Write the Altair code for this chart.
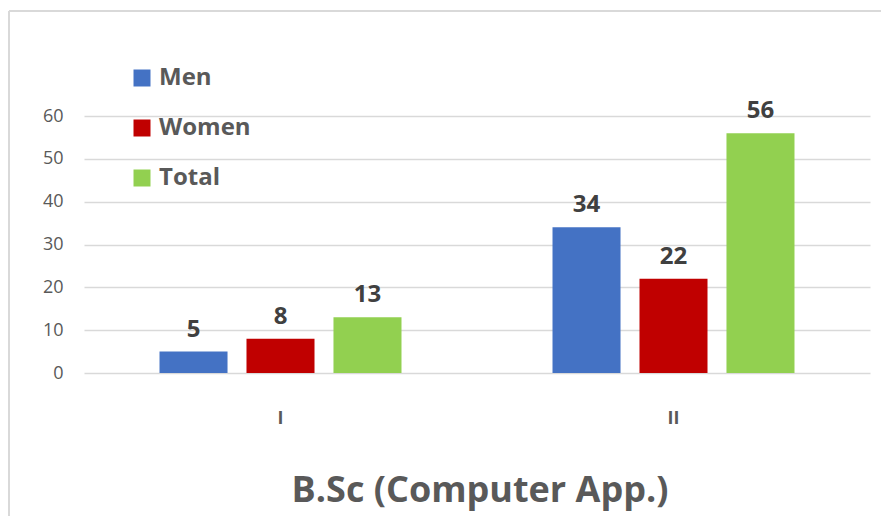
import altair as alt
import pandas as pd

years = ["I", "II"]
series = ["Men", "Women", "Total"]
men = [5, 34]
women = [8, 22]
total = [13, 56]
colors = ["#4472C4", "#C00000", "#92D050"]
y_ticks = [0, 10, 20, 30, 40, 50, 60]
title = "B.Sc (Computer App.)"

rows = []
for i, yr in enumerate(years):
    for s, vals in zip(series, [men, women, total]):
        rows.append({"year": yr, "series": s, "value": vals[i]})
df = pd.DataFrame(rows)

FONT = "Open Sans"

x_enc = alt.X("year:N", sort=years,
              scale=alt.Scale(paddingInner=0.336, paddingOuter=0.168),
              axis=alt.Axis(title=None, labelAngle=0, ticks=False, domain=False,
                            labelFontSize=18, labelFontWeight="bold", labelColor="#595959",
                            labelPadding=36, labelFont=FONT))
xo_enc = alt.XOffset("series:N", sort=series,
                     scale=alt.Scale(paddingInner=0.218, paddingOuter=0.109))
y_enc = alt.Y("value:Q", scale=alt.Scale(domain=[0, 60], nice=False),
              axis=alt.Axis(title=None, values=y_ticks, ticks=False, domain=False,
                            gridColor="#D9D9D9", gridWidth=1.5,
                            labelFontSize=18, labelColor="#595959", labelPadding=21,
                            labelFont=FONT))

bars = alt.Chart(df).mark_bar().encode(
    x=x_enc, xOffset=xo_enc, y=y_enc,
    color=alt.Color("series:N", sort=series,
                    scale=alt.Scale(domain=series, range=colors),
                    legend=alt.Legend(title=None, orient="none", legendX=46, legendY=-50,
                                      symbolType="square", symbolSize=289,
                                      symbolStrokeWidth=0, labelFontSize=24,
                                      labelFontWeight="bold", labelColor="#595959",
                                      labelFont=FONT, rowPadding=26, labelOffset=5)),
)

labels = alt.Chart(df).mark_text(baseline="bottom", dy=-10, fontSize=24, fontWeight="bold",
                                 color="#404040", font=FONT).encode(
    x=x_enc, xOffset=xo_enc, y=y_enc, text="value:Q")

border_df = pd.DataFrame({"a": [0]})
vline = alt.Chart(border_df).mark_rule(color="#D9D9D9", strokeWidth=2).encode(
    x=alt.value(-75), y=alt.value(-105), y2=alt.value(420))
hline = alt.Chart(border_df).mark_rule(color="#D9D9D9", strokeWidth=2).encode(
    x=alt.value(-75), x2=alt.value(820), y=alt.value(-105))

title_df = pd.DataFrame({"t": [title]})
title_mark = alt.Chart(title_df).mark_text(fontSize=36, fontWeight="bold", color="#595959",
                                           font=FONT, baseline="middle", align="center").encode(
    x=alt.value(396), y=alt.value(375), text="t:N")

chart = alt.layer(bars, labels, vline, hline, title_mark).properties(
    width=786, height=257,
    autosize=alt.AutoSizeParams(type="none"),
    padding={"left": 76, "top": 108, "right": 11, "bottom": 143},
).configure_view(stroke=None)

chart.save("out.html", embed_options={"renderer": "svg", "actions": False})
